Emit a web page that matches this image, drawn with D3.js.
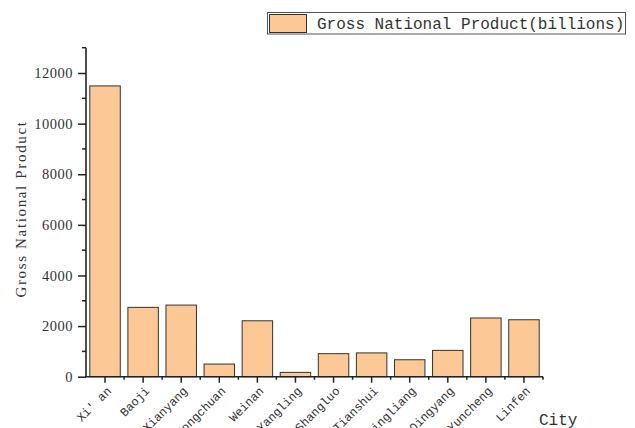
<!DOCTYPE html>
<html>
<head>
<meta charset="utf-8">
<script src="https://cdn.jsdelivr.net/npm/d3@7"></script>
<style>
  body { margin: 0; background: #fff; }
  svg { display: block; }
</style>
</head>
<body>
<svg id="chart" width="635" height="428"></svg>
<script>
// data
const cities = ["Xi' an", "Baoji", "Xianyang", "Tongchuan", "Weinan", "Yangling",
    "Shangluo", "Tianshui", "Pingliang", "Qingyang", "Yuncheng", "Linfen"];
const gnp = [11490, 2740, 2830, 500, 2210, 170, 910, 940, 670, 1040, 2320, 2250];
const majorTicks = [0, 2000, 4000, 6000, 8000, 10000, 12000];
const minorTicks = [1000, 3000, 5000, 7000, 9000, 11000, 13000];
const legendLabel = "Gross National Product(billions)";

const svg = d3.select("#chart");
const plotLeft = 86, plotRight = 543, plotTop = 47.7, plotBottom = 376.7;
const axisColor = "#222";
const barColor = "#fcc896";

const x = d3.scaleBand()
    .domain(cities)
    .range([plotLeft, plotRight])
    .paddingInner(0.2)
    .paddingOuter(0.1);

const y = d3.scaleLinear()
    .domain([0, 13000])
    .range([plotBottom, plotTop]);

// bars
svg.selectAll(".bar")
    .data(cities)
    .enter().append("rect")
    .attr("class", "bar")
    .attr("x", d => x(d))
    .attr("y", (d, i) => y(gnp[i]))
    .attr("width", x.bandwidth())
    .attr("height", (d, i) => plotBottom - y(gnp[i]))
    .style("fill", barColor)
    .style("stroke", "#333")
    .style("stroke-width", 1);

// y axis
const yAxis = svg.append("g")
    .attr("transform", "translate(" + plotLeft + ",0)")
    .call(d3.axisLeft(y).tickValues(majorTicks).tickFormat(d3.format("d"))
        .tickSize(8).tickPadding(5).tickSizeOuter(0));
yAxis.select(".domain").remove();
yAxis.selectAll(".tick line").style("stroke", axisColor).style("stroke-width", 1.5);
yAxis.selectAll(".tick text")
    .style("font-family", "'Liberation Serif', serif")
    .style("font-size", "14.5px")
    .style("letter-spacing", "0.5px")
    .style("fill", "#333");

svg.append("g")
    .attr("transform", "translate(" + plotLeft + ",0)")
    .selectAll("line")
    .data(minorTicks)
    .enter().append("line")
    .attr("x1", -4).attr("x2", 0)
    .attr("y1", d => y(d)).attr("y2", d => y(d))
    .style("stroke", axisColor).style("stroke-width", 1.5);

svg.append("line")
    .attr("x1", plotLeft).attr("x2", plotLeft)
    .attr("y1", plotTop).attr("y2", plotBottom)
    .style("stroke", axisColor).style("stroke-width", 1.6);

// x axis
const xAxis = svg.append("g")
    .attr("transform", "translate(0," + plotBottom + ")")
    .call(d3.axisBottom(x).tickSize(6).tickSizeOuter(0));
xAxis.select(".domain").remove();
xAxis.selectAll(".tick line").style("stroke", axisColor).style("stroke-width", 1.5);
xAxis.selectAll(".tick text")
    .attr("y", 0).attr("dy", 0)
    .attr("text-anchor", "end")
    .attr("transform", "translate(7,15) rotate(-45)")
    .style("font-family", "'Liberation Mono', monospace")
    .style("font-size", "12px")
    .style("fill", "#333");

// minor ticks on category boundaries
const step = x.step();
const bounds = cities.map(d => x(d) + x.bandwidth() + (step - x.bandwidth()) / 2);
svg.append("g")
    .selectAll("line")
    .data(bounds)
    .enter().append("line")
    .attr("x1", d => d).attr("x2", d => d)
    .attr("y1", plotBottom).attr("y2", plotBottom + 3)
    .style("stroke", axisColor).style("stroke-width", 1.5);

svg.append("line")
    .attr("x1", plotLeft - 1).attr("x2", plotRight)
    .attr("y1", plotBottom).attr("y2", plotBottom)
    .style("stroke", axisColor).style("stroke-width", 1.6);

// axis titles
svg.append("text")
    .attr("transform", "translate(26,209) rotate(-90)")
    .attr("text-anchor", "middle")
    .style("font-family", "'Liberation Serif', serif")
    .style("font-size", "15px")
    .style("letter-spacing", "1.65px")
    .style("fill", "#333")
    .text("Gross National Product");

svg.append("text")
    .attr("x", 539)
    .attr("y", 425)
    .style("font-family", "'Liberation Mono', monospace")
    .style("font-size", "16px")
    .style("fill", "#333")
    .text("City");

// legend
const legend = svg.append("g").attr("class", "legend");
legend.append("rect")
    .attr("x", 267.5).attr("y", 12.5)
    .attr("width", 358).attr("height", 21.5)
    .style("fill", "#fff")
    .style("stroke", "#555")
    .style("stroke-width", 1);
legend.append("rect")
    .attr("x", 269.5).attr("y", 14.5)
    .attr("width", 37).attr("height", 18)
    .style("fill", barColor)
    .style("stroke", "#333")
    .style("stroke-width", 1);
legend.append("text")
    .attr("x", 317)
    .attr("y", 29)
    .style("font-family", "'Liberation Mono', monospace")
    .style("font-size", "16px")
    .style("fill", "#333")
    .text(legendLabel);
</script>
</body>
</html>
